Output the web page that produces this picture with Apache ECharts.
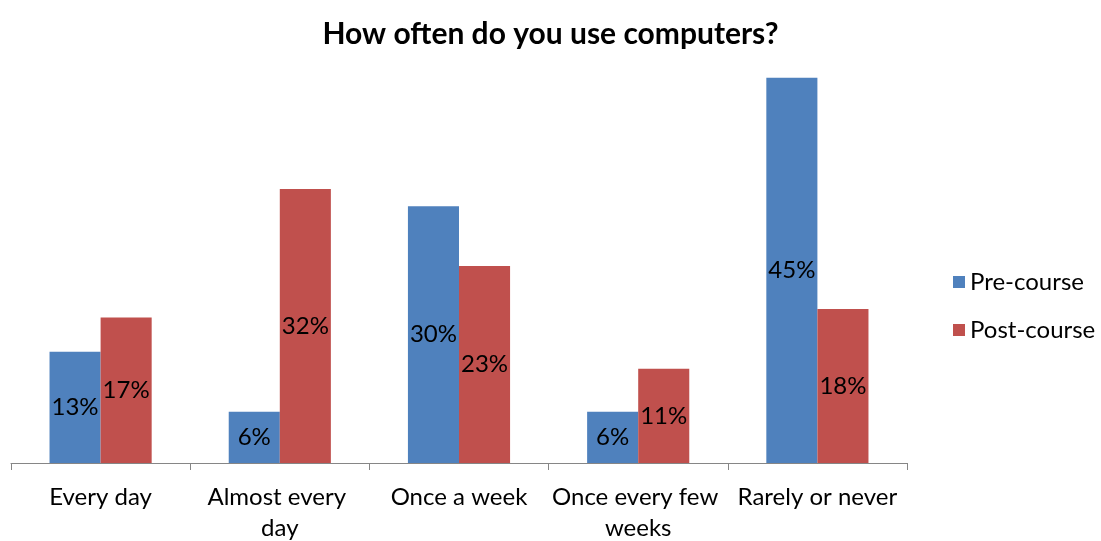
<!DOCTYPE html>
<html>
<head>
<meta charset="utf-8">
<script src="https://cdn.jsdelivr.net/npm/echarts@6/dist/echarts.min.js"></script>
<style>html,body{margin:0;padding:0;background:#fff;}#c{width:1101px;height:541px;}</style>
</head>
<body>
<div id="c"></div>
<script>
const categories = ["Every day", "Almost every day", "Once a week", "Once every few weeks", "Rarely or never"];
const preCourse = [13, 6, 30, 6, 45];
const postCourse = [17, 32, 23, 11, 18];
const seriesNames = ["Pre-course", "Post-course"];
const titleText = "How often do you use computers?";

const FONT = "Lato, 'Open Sans', sans-serif";
const chart = echarts.init(document.getElementById('c'), null, {renderer: 'canvas'});
const labelCfg = {
  show: true, position: 'inside', color: '#000', fontSize: 24, fontFamily: FONT,
  formatter: p => p.value + '%'
};
chart.setOption({
  animation: false,
  title: {
    text: titleText, left: 'center', top: 14,
    textStyle: {fontFamily: FONT, fontWeight: 'bold', fontSize: 30, color: '#000'}
  },
  legend: {
    orient: 'vertical', left: 948, top: 265, itemWidth: 12, itemHeight: 12, itemGap: 24,
    icon: 'rect',
    textStyle: {fontFamily: FONT, fontSize: 24, color: '#000'},
    data: seriesNames
  },
  grid: {left: 11, right: 194, top: 35, bottom: 78, containLabel: false, outerBoundsMode: 'none'},
  xAxis: {
    type: 'category', data: categories,
    axisLine: {lineStyle: {color: '#868686', width: 1}},
    axisTick: {show: true, length: 7, lineStyle: {color: '#868686'}},
    axisLabel: {
      fontFamily: FONT, fontSize: 24, color: '#000', margin: 19, lineHeight: 31,
      width: 174, overflow: 'break', interval: 0
    }
  },
  yAxis: {type: 'value', min: 0, max: 50, show: false, splitLine: {show: false}},
  series: [
    {name: seriesNames[0], type: 'bar', data: preCourse, barGap: '0%', barCategoryGap: '43%',
     itemStyle: {color: '#4F81BD'}, label: labelCfg},
    {name: seriesNames[1], type: 'bar', data: postCourse, barGap: '0%', barCategoryGap: '43%',
     itemStyle: {color: '#C0504D'}, label: labelCfg}
  ]
});
</script>
</body>
</html>
